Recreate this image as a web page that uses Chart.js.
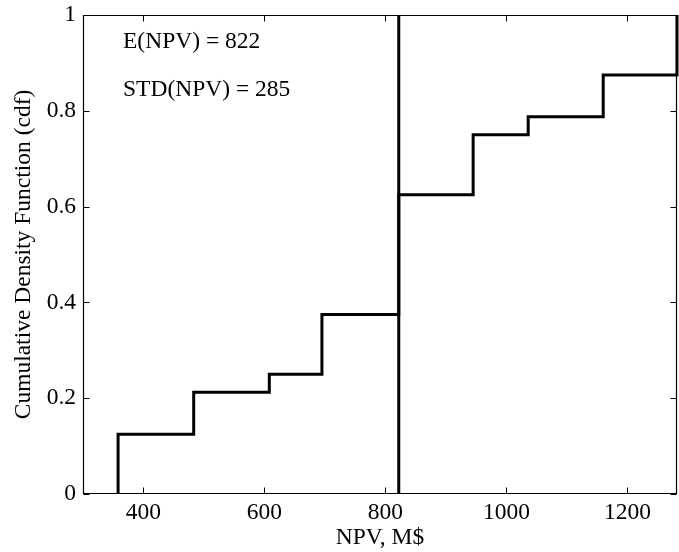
<!DOCTYPE html>
<html>
<head>
<meta charset="utf-8">
<script src="https://cdn.jsdelivr.net/npm/chart.js@4/dist/chart.umd.min.js"></script>
<style>
html,body{margin:0;padding:0;background:#fff;}
#wrap{width:679px;height:552px;position:relative;}
</style>
</head>
<body>
<div id="wrap"><canvas id="c" width="679" height="552"></canvas></div>
<script>
// ---- data ----
const stepX = [358, 483, 608, 695, 822, 945, 1036, 1160, 1282];   // NPV, M$ where CDF jumps
const stepY = [0.125, 0.2125, 0.25, 0.375, 0.625, 0.75, 0.7875, 0.875, 1.0]; // CDF level after jump
const meanNPV = 822;
const stdNPV = 285;
const xTicks = [400, 600, 800, 1000, 1200];
const yTicks = [0, 0.2, 0.4, 0.6, 0.8, 1];
const xRange = [300, 1282];
const yRange = [0, 1];
const xTitle = 'NPV, M$';
const yTitle = 'Cumulative Density Function (cdf)';
const notes = ['E(NPV) = ' + meanNPV, 'STD(NPV) = ' + stdNPV];

const FONT = "'Liberation Serif','Times New Roman',serif";
const FS = 23.5;

const cdfPoints = [{x: stepX[0], y: 0}].concat(stepX.map((x, i) => ({x: x, y: stepY[i]})));
const meanPoints = [{x: meanNPV, y: yRange[0]}, {x: meanNPV, y: yRange[1]}];

const boxPlugin = {
  id: 'boxTicks',
  afterDraw(chart) {
    const ctx = chart.ctx, a = chart.chartArea;
    const xs = chart.scales.x, ys = chart.scales.y;
    ctx.save();
    ctx.strokeStyle = '#000';
    ctx.lineWidth = 1.2;
    ctx.beginPath();
    const L = Math.round(a.left) + 0.5, R = Math.round(a.right) - 0.5;
    const T = Math.round(a.top) + 0.5, B = Math.round(a.bottom) - 0.5;
    ctx.rect(L, T, R - L, B - T);
    ctx.stroke();
    const tl = 6;
    ctx.lineWidth = 1;
    ctx.beginPath();
    xTicks.forEach(v => {
      const px = Math.round(xs.getPixelForValue(v)) + 0.5;
      ctx.moveTo(px, B); ctx.lineTo(px, B - tl);
      ctx.moveTo(px, T); ctx.lineTo(px, T + tl);
    });
    yTicks.forEach(v => {
      const py = Math.round(ys.getPixelForValue(v)) + 0.5;
      ctx.moveTo(L, py); ctx.lineTo(L + tl, py);
      ctx.moveTo(R, py); ctx.lineTo(R - tl, py);
    });
    ctx.stroke();
    // annotations
    ctx.fillStyle = '#000';
    ctx.font = FS + 'px ' + FONT;
    ctx.textAlign = 'left';
    ctx.textBaseline = 'alphabetic';
    ctx.fillText(notes[0], a.left + 40, a.top + 33);
    ctx.fillText(notes[1], a.left + 40, a.top + 81);
    ctx.restore();
  }
};

new Chart(document.getElementById('c'), {
  type: 'line',
  data: {
    datasets: [
      {
        data: cdfPoints,
        stepped: 'before',
        borderColor: '#000',
        borderWidth: 3,
        pointRadius: 0,
        fill: false,
        clip: 3
      },
      {
        data: meanPoints,
        borderColor: '#000',
        borderWidth: 3,
        pointRadius: 0,
        fill: false,
        clip: 3
      }
    ]
  },
  options: {
    responsive: false,
    animation: false,
    events: [],
    layout: {padding: {top: 15, right: 2, left: 0, bottom: 0}},
    plugins: {legend: {display: false}, tooltip: {enabled: false}},
    scales: {
      x: {
        type: 'linear',
        min: xRange[0], max: xRange[1],
        afterBuildTicks: s => { s.ticks = xTicks.map(v => ({value: v})); },
        afterFit: s => { s.height = 58; },
        grid: {display: false, drawTicks: false},
        border: {display: false},
        ticks: {color: '#000', font: {family: FONT, size: FS}, padding: 5, maxRotation: 0, autoSkip: false,
                callback: v => String(v)},
        title: {display: true, text: xTitle, color: '#000', font: {family: FONT, size: FS}, padding: {top: 0, bottom: 0}}
      },
      y: {
        type: 'linear',
        min: yRange[0], max: yRange[1],
        afterBuildTicks: s => { s.ticks = yTicks.map(v => ({value: v})); },
        afterFit: s => { s.width = 83; },
        grid: {display: false, drawTicks: false},
        border: {display: false},
        ticks: {color: '#000', font: {family: FONT, size: FS, lineHeight: 0.5}, padding: 7, autoSkip: false,
                callback: v => String(v)},
        title: {display: true, text: yTitle, color: '#000', font: {family: FONT, size: FS}, padding: {top: 10, bottom: 0}}
      }
    }
  },
  plugins: [boxPlugin]
});
</script>
</body>
</html>
